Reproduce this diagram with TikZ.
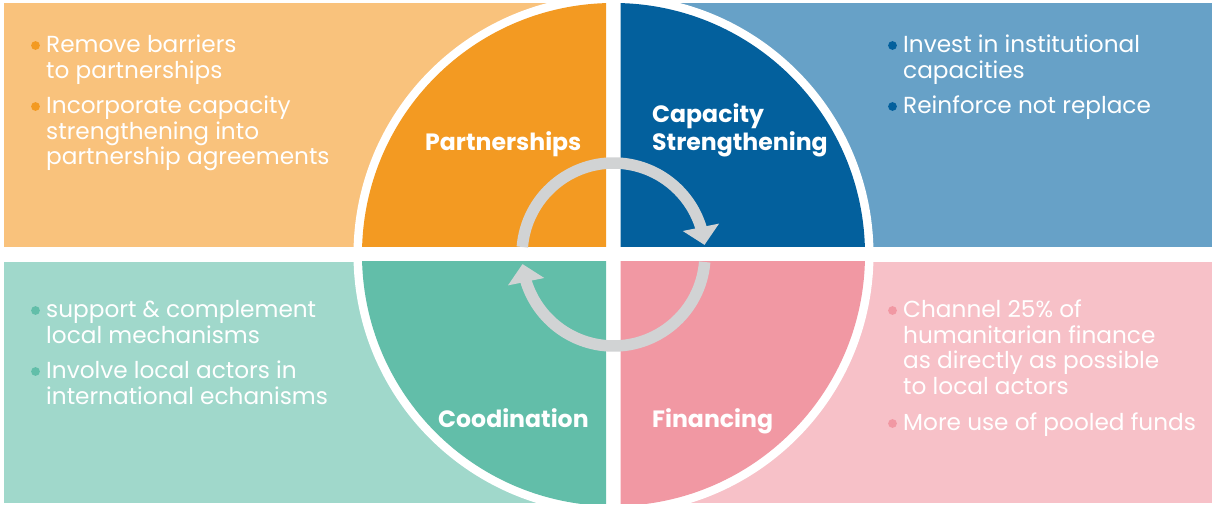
\documentclass[tikz,border=0pt]{standalone}
\usepackage{fontspec}
\setmainfont{Poppins}
\usepackage{tikz}
\usetikzlibrary{arrows.meta,bending}

\definecolor{orlight}{HTML}{F9C27C}
\definecolor{ordark}{HTML}{F39A22}
\definecolor{bllight}{HTML}{67A1C7}
\definecolor{bldark}{HTML}{03609D}
\definecolor{tllight}{HTML}{A0D8CB}
\definecolor{tldark}{HTML}{62BEA9}
\definecolor{pklight}{HTML}{F7C1C8}
\definecolor{pkdark}{HTML}{F198A3}
\definecolor{ringgray}{HTML}{D1D3D4}

\begin{document}
\begin{tikzpicture}[x=1pt,y=1pt,
		body/.style={anchor=base west,align=left,text=white,inner sep=0pt,
			font=\fontsize{23.2}{25.5}\selectfont},
		title/.style={anchor=base west,align=left,text=white,inner sep=0pt,
			font=\fontsize{23.6}{28}\selectfont\bfseries},
		ringarrow/.style={draw=ringgray,line width=11.5pt,
			-{Triangle[width=36pt,length=18pt,flex]}}]
		\useasboundingbox (0,0) rectangle (1212,506);
		\coordinate (C) at (613.5,251.5);
		%
		% light quarters
		\fill[orlight] (4,259) rectangle (606,503);
		\fill[bllight] (620.5,259) rectangle (1212,503);
		\fill[tllight] (4,3) rectangle (606,244);
		\fill[pklight] (620.5,3) rectangle (1212,244);
		%
		% dark disc, cut into quarters
		\begin{scope}
			\clip (4,259) rectangle (606,503);
			\fill[white] (C) circle (260);
			\fill[ordark] (C) circle (251.5);
		\end{scope}
		\begin{scope}
			\clip (620.5,259) rectangle (1212,503);
			\fill[white] (C) circle (260);
			\fill[bldark] (C) circle (251.5);
		\end{scope}
		\begin{scope}
			\clip (4,3) rectangle (606,244);
			\fill[white] (C) circle (260);
			\fill[tldark] (C) circle (251.5);
		\end{scope}
		\begin{scope}
			\clip (620.5,3) rectangle (1212,244);
			\fill[white] (C) circle (260);
			\fill[pkdark] (C) circle (251.5);
		\end{scope}
		%
		% cycle arrows
		\draw[ringarrow] (C) ++(175.3:91.5) arc[start angle=175.3,end angle=6,radius=91.5];
		\draw[ringarrow] (C) ++(-4.7:91.5) arc[start angle=-4.7,end angle=-174,radius=91.5];
		%
		% titles (base = last line)
		\node[title] (Part) at (425,355) {Partnerships};
		\node[title] (Capa) at (652,355) {Capacity\\Strengthening};
		\node[title] (Coor) at (438,78) {Coodination};
		\node[title] (Fina) at (652,78) {Financing};
		%
		% bullet texts (base = last line)
		\node[body] (P1) at (46,427.5) {Remove barriers\\to partnerships};
		\node[body] (P2) at (46,341) {Incorporate capacity\\strengthening into\\partnership agreements};
		\node[body] (S1) at (903,427.5) {Invest in institutional\\capacities};
		\node[body] (S2) at (903,392) {Reinforce not replace};
		\node[body] (K1) at (46,162.5) {support \& complement\\local mechanisms};
		\node[body] (K2) at (46,101.5) {Involve local actors in\\international echanisms};
		\node[body] (F1) at (903,111.5) {Channel 25\% of\\humanitarian finance\\as directly as possible\\to local actors};
		\node[body] (F2) at (903,75) {More use of pooled funds};
		%
		% bullets on the first line
		\foreach \b/\c/\n in {P1/ordark/1,P2/ordark/2,S1/bldark/1,S2/bldark/0,
				K1/tldark/1,K2/tldark/1,F1/pkdark/3,F2/pkdark/0}
			\fill[\c] (\b.base west) ++(-10.5,7.5+\n*25.5) circle (4.4);
	\end{tikzpicture}
\end{document}
